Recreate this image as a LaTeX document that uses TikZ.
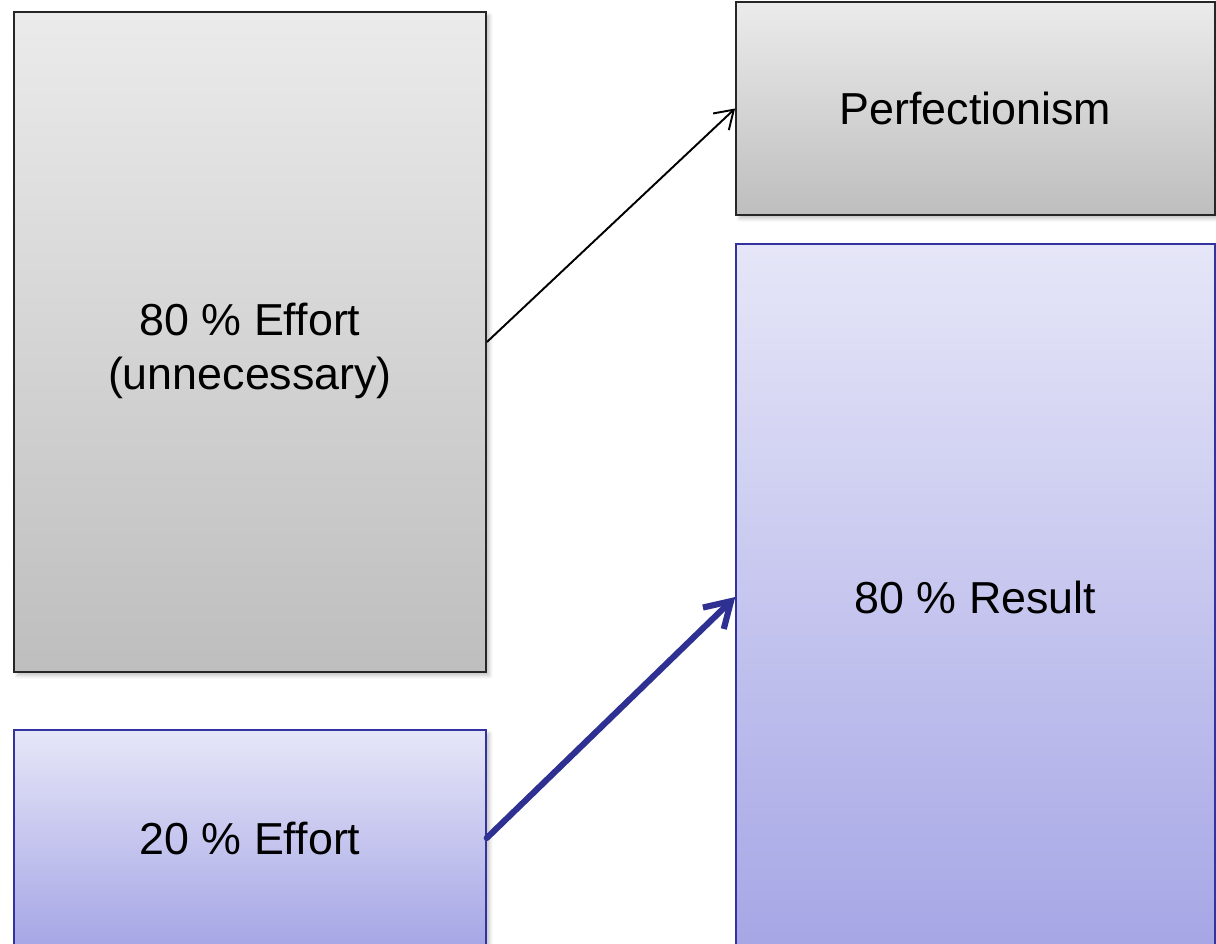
\documentclass[tikz,border=0pt]{standalone}
\usepackage{fontspec}
\setmainfont{Liberation Sans}
\usetikzlibrary{arrows.meta, shadows.blur}

\definecolor{greytop}{HTML}{EBEBEB}
\definecolor{greybot}{HTML}{BEBEBE}
\definecolor{bluetop}{HTML}{E6E6F8}
\definecolor{bluebot}{HTML}{A6A6E6}
\definecolor{blueline}{HTML}{3333A0}
\definecolor{bluearrow}{HTML}{2E3192}

\begin{document}
\begin{tikzpicture}[
      x=0.02cm, y=-0.02cm,
      box/.style={rectangle,inner sep=0pt,align=center,
        font=\fontsize{25.5}{30.6}\selectfont,
        blur shadow={shadow xshift=2pt,shadow yshift=-2pt,shadow blur steps=6,shadow opacity=25}},
      effort/.style={box,draw=black!85,line width=1.1pt,top color=greytop,bottom color=greybot},
      result/.style={box,draw=blueline,line width=0.9pt,top color=bluetop,bottom color=bluebot},
      waste link/.style={-{Straight Barb[length=10pt,width=13pt]},line width=1.1pt,black},
      pareto link/.style={-{Straight Barb[length=14pt,width=17pt]},line width=3.5pt,bluearrow,line cap=round}
      ]
      \clip (0,0) rectangle (1216,943);
      % left column
      \node [effort,minimum width=9.44cm,minimum height=13.2cm] (waste) at (250,342)
        {\rule{0pt}{1.02cm}80 \% Effort\\(unnecessary)};
      \node [result,minimum width=9.44cm,minimum height=4.32cm] (effort) at (250,838) {20 \% Effort};
      % right column
      \node [effort,minimum width=9.58cm,minimum height=4.26cm] (perfect) at (975.5,108.5) {Perfectionism};
      \node [result,minimum width=9.58cm,minimum height=14.12cm] (outcome) at (975.5,597) {80 \% Result};
      % arcs
      \draw [waste link] (waste.east) -- (perfect.west);
      \draw [pareto link] (effort.east) -- (outcome.west);
    \end{tikzpicture}
\end{document}
